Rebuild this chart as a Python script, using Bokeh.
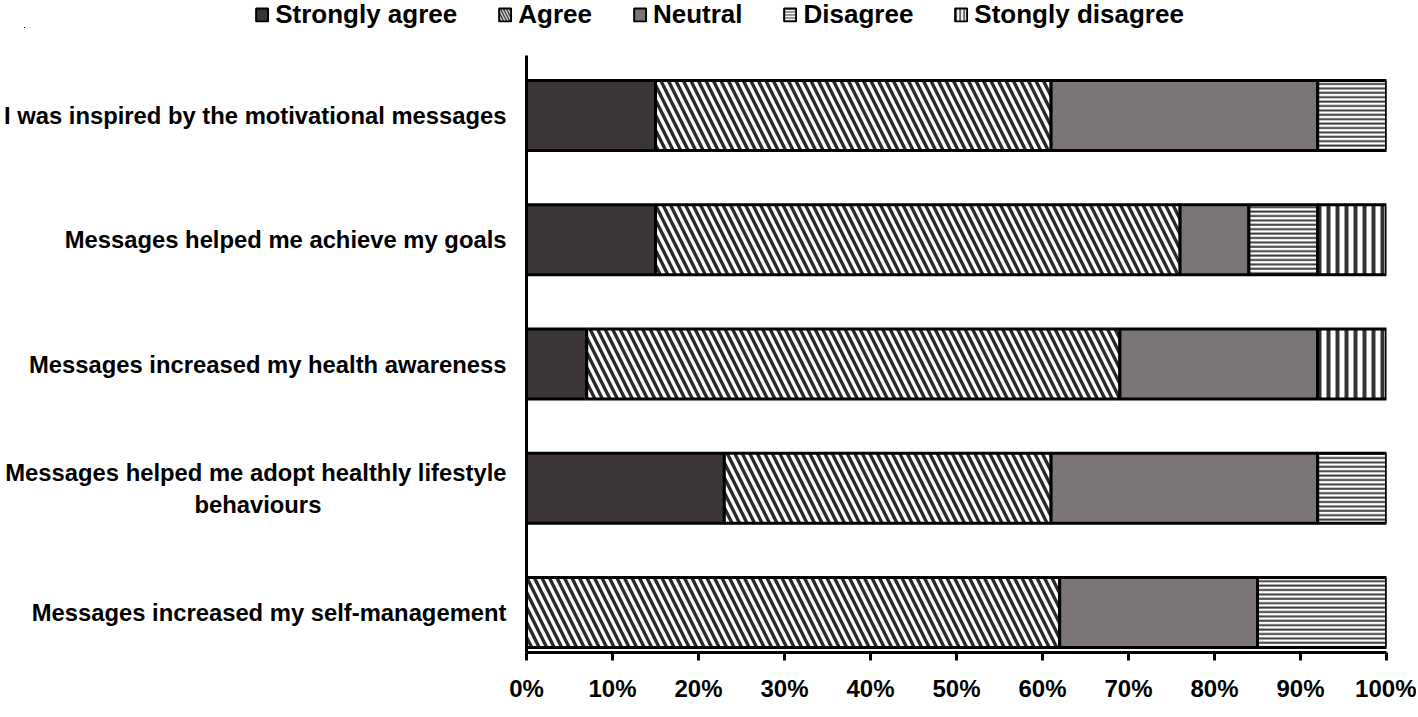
from bokeh.plotting import figure
from bokeh.models import (ColumnDataSource, Range1d, FixedTicker, NumeralTickFormatter,
                          Legend, LegendItem)
from bokeh.embed import file_html
from bokeh.resources import INLINE

NB = "\u00a0"
categories = [
    "I was inspired by the motivational messages",
    "Messages helped me achieve my goals",
    "Messages increased my health awareness",
    "Messages helped me adopt healthly lifestyle\nbehaviours" + NB * 28,
    "Messages increased my self-management",
]
series = ["Strongly agree", "Agree", "Neutral", "Disagree", "Stongly disagree"]
strongly_agree = [15, 15, 7, 23, 0]
agree = [46, 61, 62, 38, 62]
neutral = [31, 8, 23, 31, 23]
disagree = [8, 8, 0, 8, 15]
strongly_disagree = [0, 8, 8, 0, 0]
x_ticks = [0, 10, 20, 30, 40, 50, 60, 70, 80, 90, 100]

ypos = [len(categories) - 1 - i for i in range(len(categories))]
keys = ["sa", "ag", "ne", "di", "sd"]
data = {"y": ypos}
for k, vals in zip(keys, [strongly_agree, agree, neutral, disagree, strongly_disagree]):
    data[k] = [v / 100 for v in vals]
source = ColumnDataSource(data)

FONT = "Liberation Sans"
FIG_W = 1414

fills = ["#3b3536", "white", "#7b7575", "white", "white"]
hatches = [None, "\\", None, "-", "|"]
hatch_colors = ["black", "#2a2a2a", "black", "#3c3c3c", "#333333"]
hatch_scales = [12, 15, 12, 4.4, 9]
hatch_weights = [1, 3.4, 1, 2, 4]

# ---- legend strip (separate root above the chart) ----
lg = figure(output_backend="svg", toolbar_location=None, width=FIG_W, height=28,
            x_range=Range1d(10, 11), y_range=Range1d(20, 21),
            x_axis_type=None, y_axis_type=None)
lg.min_border_left = 24
lg.min_border_right = 0
lg.min_border_top = 0
lg.min_border_bottom = 0
lg.outline_line_color = None
lg.grid.visible = False
proxies = lg.hbar_stack(keys, y="y", height=0.5, source=source,
                        fill_color=fills, hatch_pattern=hatches,
                        hatch_color=hatch_colors, hatch_scale=[12, 6, 12, 3, 4],
                        hatch_weight=[1, 1.5, 1, 1.2, 1.5],
                        line_color="black", line_width=2)
legend = Legend(items=[LegendItem(label=s, renderers=[r]) for s, r in zip(series, proxies)],
                orientation="horizontal", location="center",
                label_text_font=FONT, label_text_font_style="bold",
                label_text_font_size="26px", label_text_color="black",
                glyph_width=15, glyph_height=16, label_standoff=6, spacing=40,
                padding=0, margin=0, border_line_alpha=0, background_fill_alpha=0)
lg.add_layout(legend)

# ---- main chart ----
p = figure(output_backend="svg", toolbar_location=None,
           frame_width=860, frame_height=597,
           x_range=Range1d(0, 1), y_range=Range1d(-0.322, 4.483))
p.min_border_left = 524
p.min_border_right = 30
p.min_border_top = 27
p.min_border_bottom = 60
p.outline_line_color = None
p.xgrid.visible = False
p.ygrid.visible = False
p.background_fill_color = "white"
p.border_fill_color = "white"

p.hbar_stack(keys, y="y", height=0.563, source=source,
             fill_color=fills, hatch_pattern=hatches,
             hatch_color=hatch_colors, hatch_scale=hatch_scales,
             hatch_weight=hatch_weights,
             line_color="black", line_width=3)

xa = p.xaxis[0]
xa.ticker = FixedTicker(ticks=[t / 100 for t in x_ticks])
xa.formatter = NumeralTickFormatter(format="0%")
xa.axis_line_width = 3
xa.axis_line_color = "black"
xa.major_tick_line_width = 3
xa.major_tick_line_color = "black"
xa.major_tick_in = 0
xa.major_tick_out = 8
xa.minor_tick_line_color = None
xa.major_label_text_font = FONT
xa.major_label_text_font_style = "bold"
xa.major_label_text_font_size = "24px"
xa.major_label_text_color = "black"
xa.major_label_standoff = 14

ya = p.yaxis[0]
ya.ticker = FixedTicker(ticks=ypos)
ya.major_label_overrides = {y: c for y, c in zip(ypos, categories)}
ya.axis_line_width = 3
ya.axis_line_color = "black"
ya.major_tick_line_color = None
ya.major_tick_in = 0
ya.major_tick_out = 0
ya.minor_tick_line_color = None
ya.minor_tick_in = 0
ya.minor_tick_out = 0
ya.major_label_text_font = FONT
ya.major_label_text_font_style = "bold"
ya.major_label_text_font_size = "23.8px"
ya.major_label_text_color = "black"
ya.major_label_standoff = 20

open("out.html", "w").write(file_html([lg, p], INLINE))
